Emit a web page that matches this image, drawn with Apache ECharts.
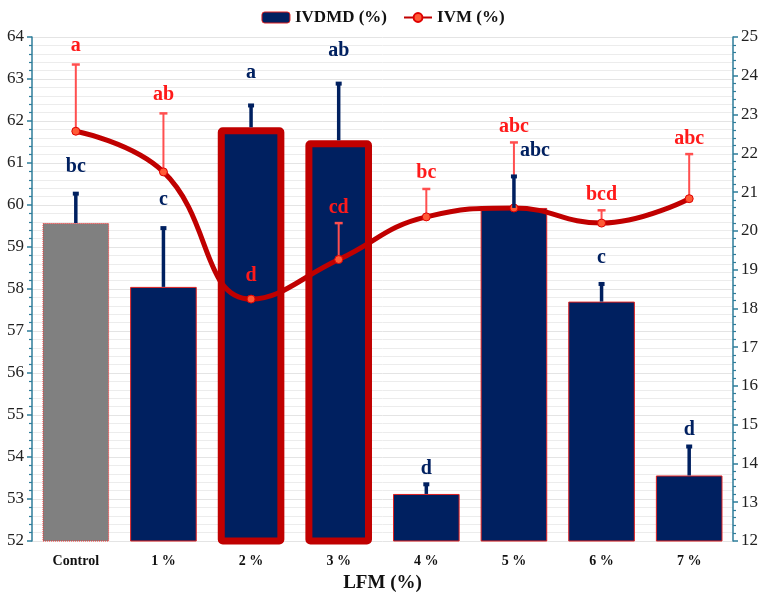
<!DOCTYPE html>
<html><head><meta charset="utf-8">
<script src="https://cdn.jsdelivr.net/npm/echarts@6/dist/echarts.min.js"></script>
<style>html,body{margin:0;padding:0;background:#fff}#c{width:766px;height:598px}</style>
</head><body><div id="c"></div>
<script>
// ---- data ----
const categories = ['Control','1 %','2 %','3 %','4 %','5 %','6 %','7 %'];
const ivdmd      = [59.57, 58.05, 61.85, 61.54, 53.12, 59.93, 57.70, 53.56];
const ivdmdErr   = [0.70, 1.40, 0.52, 1.35, 0.23, 0.75, 0.42, 0.69];
const ivdmdLetters = ['bc','c','a','ab','d','abc','c','d'];
const ivm        = [22.57, 21.52, 18.24, 19.26, 20.36, 20.59, 20.20, 20.83];
const ivmErr     = [1.72, 1.51, 0, 0.94, 0.72, 1.69, 0.33, 1.15];
const ivmLetters = ['a','ab','d','cd','bc','abc','bcd','abc'];
const leftTicks  = [52, 64, 1];
const rightTicks = [12, 25, 1];

// ---- styles ----
const NAVY = '#002060', RED = '#c00000', ERR_RED = '#ff4f4f', AXIS = '#2e7d9a';
const FONT = '"Liberation Serif","Times New Roman",serif';
const navyLabelDx = [0,0,0,0,0,21,0,0];
const navyLabelGap = [27,28,33,33,15,26,26,17];
const redLabelGap = [19,19,23,15,16,16,15,15];

const chart = echarts.init(document.getElementById('c'));

const barData = ivdmd.map((v,i)=>{
  const item = {value:v};
  if(i===0) item.itemStyle = {color:'#808080', borderColor:'#ff3030', borderWidth:1, borderType:'dotted'};
  if(i===2||i===3) item.itemStyle = {color:NAVY, borderColor:RED, borderWidth:7, borderRadius:1.5};
  return item;
});

function errSeries(name, values, errs, letters, yIdx, color, lw, capW, capH, gaps, dxs, z){
  return {
    type:'custom', name:name, yAxisIndex:yIdx, z:z, silent:true,
    data: values.map((v,i)=>[i, v, v+errs[i]]),
    renderItem:(params, api)=>{
      const i = api.value(0);
      const p0 = api.coord([i, api.value(1)]);
      const p1 = api.coord([i, api.value(2)]);
      const children = [];
      if (p0[1]-p1[1] > 0.5) {
        children.push({type:'line', shape:{x1:p0[0],y1:p0[1],x2:p1[0],y2:p1[1]}, style:{stroke:color, lineWidth:lw}});
        children.push({type:'rect', shape:{x:p1[0]-capW/2, y:p1[1]-capH/2, width:capW, height:capH}, style:{fill:color}});
      }
      children.push({type:'text', style:{text:letters[i], x:p1[0]+(dxs?dxs[i]:0), y:p1[1]-gaps[i], align:'center', verticalAlign:'middle',
        fill:color===ERR_RED?'#ff1a1a':color, font:'bold 20px '+FONT}});
      return {type:'group', children};
    }
  };
}

const axisCommon = {
  type:'value', interval:1,
  axisLine:{show:true, lineStyle:{color:AXIS, width:1.5}},
  axisTick:{show:true, length:5, lineStyle:{color:AXIS, width:1.5}},
  minorTick:{show:true, splitNumber:5, length:3, lineStyle:{color:AXIS, width:1.2}},
  splitLine:{show:true, lineStyle:{color:'#e4e4e4', width:1}},
  minorSplitLine:{show:true, lineStyle:{color:'#ececec', width:1}},
  axisLabel:{color:'#222', fontFamily:FONT, fontSize:17, margin:8}
};

chart.setOption({
  animation:false,
  backgroundColor:'#fff',
  grid:{left:32, right:33, top:37, bottom:57},
  legend:{
    top:4, left:'center', itemGap:16, itemWidth:28, itemHeight:11,
    textStyle:{fontFamily:FONT, fontWeight:'bold', fontSize:17, color:'#111'},
    data:[
      {name:'IVDMD (%)', itemStyle:{color:NAVY, borderColor:'#e02020', borderWidth:1}},
      {name:'IVM (%)'}
    ]
  },
  xAxis:{
    type:'category', data:categories,
    axisLine:{show:false}, axisTick:{show:false},
    axisLabel:{color:'#111', fontFamily:FONT, fontWeight:'bold', fontSize:14, margin:13},
    name:'LFM (%)', nameLocation:'middle', nameGap:33,
    nameTextStyle:{color:'#111', fontFamily:FONT, fontWeight:'bold', fontSize:19}
  },
  yAxis:[
    Object.assign({}, axisCommon, {min:leftTicks[0], max:leftTicks[1], interval:leftTicks[2], position:'left'}),
    Object.assign({}, axisCommon, {min:rightTicks[0], max:rightTicks[1], interval:rightTicks[2], position:'right',
      splitLine:{show:false}, minorSplitLine:{show:false}})
  ],
  series:[
    {
      name:'IVDMD (%)', type:'bar', yAxisIndex:0, barWidth:'76%', z:2,
      itemStyle:{color:NAVY, borderColor:'#e02020', borderWidth:1},
      data:barData
    },
    {
      name:'IVM (%)', type:'line', yAxisIndex:1, smooth:0.45, z:4,
      lineStyle:{color:RED, width:5},
      symbol:'circle', symbolSize:8,
      itemStyle:{color:'#ff5a36', borderColor:'#e00000', borderWidth:1},
      data:ivm
    },
    errSeries('ivmErr', ivm, ivmErr, ivmLetters, 1, ERR_RED, 2, 8, 2.5, redLabelGap, null, 3),
    errSeries('ivdmdErr', ivdmd, ivdmdErr, ivdmdLetters, 0, NAVY, 3.5, 6, 4, navyLabelGap, navyLabelDx, 5)
  ]
});
</script></body></html>
